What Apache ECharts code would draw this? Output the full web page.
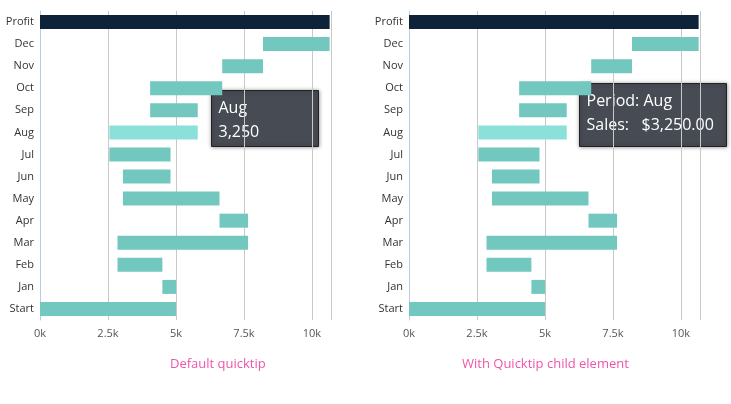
<!DOCTYPE html><html><head><meta charset="utf-8"><script src="https://cdn.jsdelivr.net/npm/echarts@6/dist/echarts.min.js"></script><style>body{margin:0}#c{width:731px;height:404px}</style></head><body><div id="c"></div><script>
const categories=['Start','Jan','Feb','Mar','Apr','May','Jun','Jul','Aug','Sep','Oct','Nov','Dec','Profit'];
const changes=[5000,-500,-1650,4800,-1050,-3550,1750,-2250,3250,-1750,2650,1500,2450];
const tickLabels=['0k','2.5k','5k','7.5k','10k'];
const base=[],len=[];let run=0;
changes.forEach((c,i)=>{if(i===0){base.push(0);len.push(c);run=c;}else{const e=run+c;base.push(Math.min(run,e));len.push(Math.abs(c));run=e;}});
base.push(0);len.push(run);
const colors=len.map((v,i)=>i===13?'#0e2239':(categories[i]==='Aug'?'#8ce0da':'#72c7bf'));
const font='"Open Sans",sans-serif';
function mk(idx,left){
 return {grid:{left:left,width:291,top:11,height:309},
 x:{gridIndex:idx,type:'value',min:0,max:10700,interval:2500,axisLine:{show:false},axisTick:{show:false},splitLine:{lineStyle:{color:'#c8c8c8'}},axisLabel:{showMaxLabel:false,color:'#555',fontSize:11,fontFamily:font,margin:8,formatter:v=>tickLabels[v/2500]}},
 y:{gridIndex:idx,type:'category',data:categories,axisLine:{lineStyle:{color:'#b8cce4'}},axisTick:{lineStyle:{color:'#b8cce4'}},axisLabel:{color:'#333',fontSize:11,fontFamily:font,margin:6}},
 s:[{type:'bar',xAxisIndex:idx,yAxisIndex:idx,stack:'s'+idx,data:base,itemStyle:{color:'transparent'},barWidth:14,silent:true},
    {type:'bar',xAxisIndex:idx,yAxisIndex:idx,stack:'s'+idx,data:len.map((v,i)=>({value:v,itemStyle:{color:colors[i]}})),barWidth:14}]};
}
const a=mk(0,40),b=mk(1,409);
function tip(x,y,w,h,lines){return {type:'group',left:x,top:y,children:[{type:'rect',shape:{width:w,height:h},style:{fill:'#474b53',stroke:'#222',lineWidth:1,shadowBlur:4,shadowColor:'rgba(0,0,0,0.4)'}},{type:'text',left:7,top:6,style:{text:lines,fill:'#fff',font:'16px '+font,lineHeight:24}}]};}
const chart=echarts.init(document.getElementById('c'));
chart.setOption({animation:false,grid:[a.grid,b.grid],xAxis:[a.x,b.x],yAxis:[a.y,b.y],series:[...a.s,...b.s],
graphic:[tip(211,90,107,56,'Aug\n3,250'),tip(579,83,147,63,'Period: Aug\nSales:   $3,250.00'),
{type:'text',left:170,top:358,style:{text:'Default quicktip',fill:'#ee55aa',font:'13px '+font}},
{type:'text',left:462,top:358,style:{text:'With Quicktip child element',fill:'#ee55aa',font:'13px '+font}}]});
</script></body></html>
